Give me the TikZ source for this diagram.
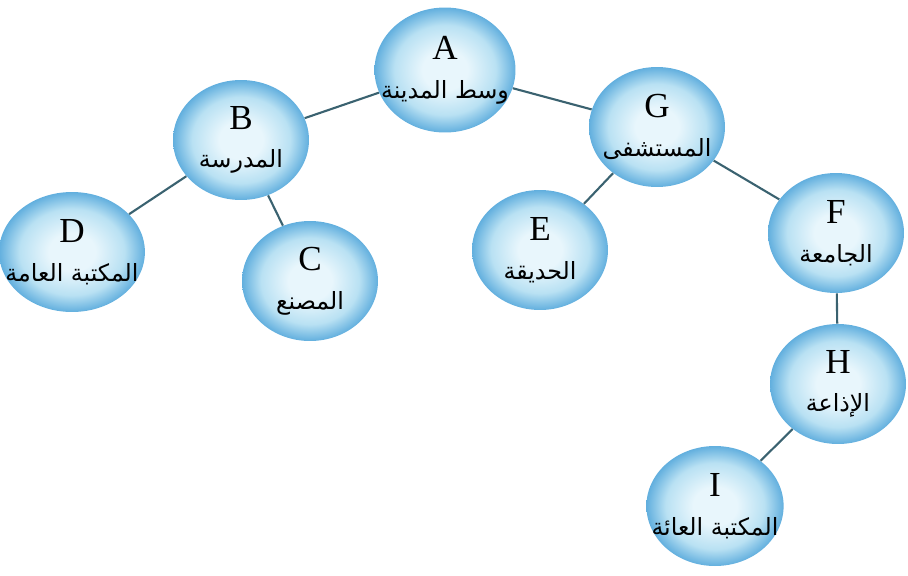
\documentclass[tikz,border=0pt]{standalone}
\usepackage{fontspec}
\setmainfont{Liberation Serif}
\newfontfamily\arabicfont[Script=Arabic]{DejaVu Sans}
\TeXXeTstate=1
\usetikzlibrary{shapes.geometric}
\definecolor{bubblein}{RGB}{232,246,252}
\definecolor{bubblemid}{RGB}{185,225,243}
\definecolor{bubbleout}{RGB}{98,175,222}
\definecolor{linkcol}{RGB}{58,98,112}
\pgfdeclareradialshading{bubble}{\pgfpoint{0bp}{0bp}}{color(0bp)=(bubblein); color(8bp)=(bubblein); color(18bp)=(bubblemid); color(25bp)=(bubbleout); color(50bp)=(bubbleout)}
\newcommand{\ar}[1]{{\arabicfont\fontsize{13.5}{15}\selectfont\beginR #1\endR}}

\begin{document}
\begin{tikzpicture}[x=0.02cm,y=-0.02cm,
place/.style={ellipse, shading=bubble, minimum width=2.72cm, minimum height=2.4cm, align=center, inner xsep=-0.3cm, inner ysep=0pt, font=\fontsize{20}{22}\selectfont},
link/.style={draw=linkcol, line width=1.2pt}]
\useasboundingbox (0,0) rectangle (908,575);
\node[place, minimum width=2.82cm, minimum height=2.5cm] (A) at (445,70) {A\\\ar{وسط المدينة}};
\node[place] (B) at (241,140) {B\\\ar{المدرسة}};
\node[place] (D) at (72,252) {D\\\ar{المكتبة العامة}};
\node[place] (C) at (310,281) {C\\\ar{المصنع}};
\node[place] (G) at (657,127) {G\\\ar{المستشفى}};
\node[place] (E) at (540,250) {E\\\ar{الحديقة}};
\node[place] (F) at (836,233) {F\\\ar{الجامعة}};
\node[place] (H) at (838,384) {H\\\ar{الإذاعة}};
\node[place] (I) at (715,506) {I\\\ar{المكتبة العائة}};
\draw[link] (A) -- (B);
\draw[link] (A) -- (G);
\draw[link] (B) -- (D);
\draw[link] (B) -- (C);
\draw[link] (G) -- (E);
\draw[link] (G) -- (F);
\draw[link] (F) -- (H);
\draw[link] (H) -- (I);
\end{tikzpicture}
\end{document}
